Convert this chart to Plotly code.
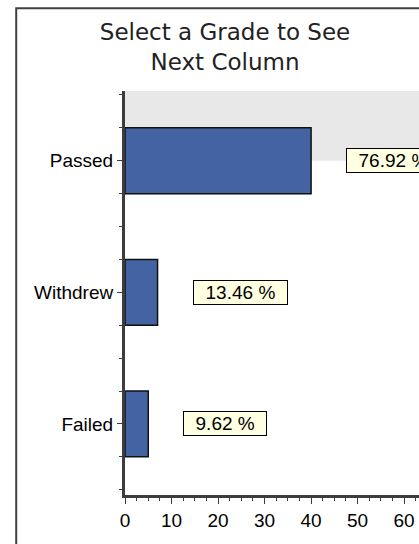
import plotly.graph_objects as go

# grade outcome counts (bars) -- top to bottom as shown
categories = ["Passed", "Withdrew", "Failed"]
counts = [40, 7, 5]
x_ticks = [0, 10, 20, 30, 40, 50, 60]

total = sum(counts)
positions = [len(categories) - 1 - i for i in range(len(categories))]
pct_labels = [f"{c / total * 100:.2f} %" for c in counts]

y_range = [-0.54, 2.53]
x_range = [0, 63.2]
axis_col = "#3c3c3c"
font_main = "Liberation Sans, Arial, sans-serif"

fig = go.Figure()
fig.add_trace(
    go.Bar(
        x=counts, y=positions, orientation="h", width=0.5,
        marker={"color": "#4363A2", "line": {"color": "#111111", "width": 1.5}},
        hoverinfo="skip",
    )
)

# highlight band behind the selected category
fig.add_shape(
    type="rect", xref="paper", yref="y", x0=0, x1=1, y0=positions[0], y1=y_range[1],
    fillcolor="#E8E8E8", line={"width": 0}, layer="below",
)

# outer frame (cut off at right / bottom)
fig.add_shape(
    type="rect", xref="paper", yref="paper", x0=-0.37, x1=1.2, y0=-0.4, y1=1.205,
    line={"color": "#404040", "width": 2}, fillcolor="rgba(0,0,0,0)",
)

for pos, c, lab in zip(positions, counts, pct_labels):
    fig.add_annotation(
        x=c, y=pos, xref="x", yref="y", text="\u00a0\u00a0" + lab + "\u00a0\u00a0",
        showarrow=False, xanchor="left", yanchor="middle", xshift=35,
        bgcolor="#FFFFE1", bordercolor="#000000", borderwidth=1, borderpad=1,
        font={"family": font_main, "size": 19, "color": "#000000"},
    )

fig.update_layout(
    width=419, height=544,
    margin={"l": 125, "r": 0, "t": 91, "b": 49},
    paper_bgcolor="white", plot_bgcolor="white",
    showlegend=False,
    title={
        "text": "Select a Grade to See<br>Next Column",
        "x": 225 / 419, "xanchor": "center", "xref": "container",
        "y": 1 - 40 / 544, "yanchor": "middle", "yref": "container",
        "font": {"family": "DejaVu Sans, Verdana, sans-serif", "size": 23, "color": "#222222"},
    },
    xaxis={
        "range": x_range, "tickvals": x_ticks, "showgrid": False, "zeroline": False,
        "showline": True, "linecolor": axis_col, "linewidth": 3,
        "ticks": "outside", "ticklen": 6, "tickcolor": axis_col, "tickwidth": 1,
        "minor": {"tickmode": "linear", "tick0": 0, "dtick": 2.5, "ticks": "outside",
                  "ticklen": 3, "tickcolor": axis_col},
        "tickfont": {"family": font_main, "size": 19, "color": "#000000"},
        "fixedrange": True,
    },
    yaxis={
        "range": y_range, "tickvals": positions, "ticktext": categories,
        "showgrid": False, "zeroline": False,
        "showline": True, "linecolor": axis_col, "linewidth": 3,
        "ticks": "outside", "ticklen": 5, "tickcolor": axis_col, "tickwidth": 1,
        "minor": {"tickmode": "linear", "tick0": 0, "dtick": 0.25, "ticks": "outside",
                  "ticklen": 3, "tickcolor": axis_col},
        "tickfont": {"family": font_main, "size": 19, "color": "#000000"},
        "fixedrange": True,
    },
)

fig.write_html(
    "out.html",
    config={"displayModeBar": False},
    post_script="document.body.style.margin='0';document.body.style.overflow='hidden';",
)
